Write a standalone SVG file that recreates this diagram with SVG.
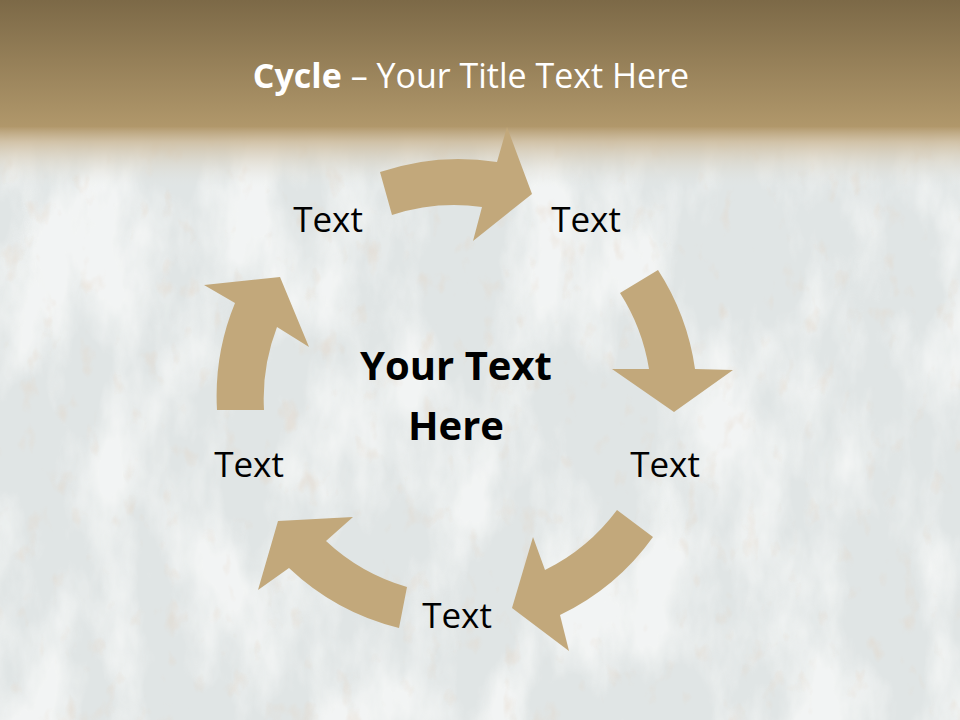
<svg xmlns="http://www.w3.org/2000/svg" width="960" height="720" viewBox="0 0 960 720">
<defs>
<linearGradient id="band" x1="0" y1="0" x2="0" y2="1">
<stop offset="0" stop-color="#7C6947"/>
<stop offset="1" stop-color="#B1986B"/>
</linearGradient>
<linearGradient id="fade" x1="0" y1="0" x2="0" y2="1">
<stop offset="0" stop-color="#B39A6E" stop-opacity="1"/>
<stop offset="0.25" stop-color="#CDBB9C" stop-opacity="0.85"/>
<stop offset="1" stop-color="#E2E4E0" stop-opacity="0"/>
</linearGradient>
<filter id="white" x="0" y="0" width="1" height="1">
<feTurbulence type="fractalNoise" baseFrequency="0.014 0.006" numOctaves="5" seed="11" result="n"/>
<feColorMatrix in="n" type="matrix" values="0 0 0 0 1  0 0 0 0 1  0 0 0 0 0.99  3.5 0 0 0 -1.45"/>
</filter>
<filter id="rust" x="0" y="0" width="1" height="1">
<feTurbulence type="fractalNoise" baseFrequency="0.05 0.03" numOctaves="3" seed="3" result="n"/>
<feColorMatrix in="n" type="matrix" values="0 0 0 0 0.78  0 0 0 0 0.66  0 0 0 0 0.55  0 4 0 0 -2.5"/>
</filter>
<style>
.arrow{fill:#C2A87B}
.lbl{font-family:"Open Sans","Liberation Sans",sans-serif;font-size:35px;fill:#000;text-anchor:middle}
.ctr{font-family:"Open Sans","Liberation Sans",sans-serif;font-size:40px;font-weight:bold;fill:#000;text-anchor:middle}
.title{font-family:"Open Sans","Liberation Sans",sans-serif;font-size:34px;fill:#fff;text-anchor:middle}
</style>
</defs>
<g id="background">
<rect x="0" y="0" width="960" height="720" fill="#E0E5E5"/>
<rect x="0" y="0" width="960" height="720" filter="url(#white)" opacity="0.6"/>
<rect x="0" y="0" width="960" height="720" filter="url(#rust)" opacity="0.35"/>
<rect x="0" y="0" width="960" height="128" fill="url(#band)"/>
<rect x="0" y="127" width="960" height="60" fill="url(#fade)"/>
</g>
<g id="title">
<text class="title" x="471" y="88"><tspan font-weight="bold">Cycle</tspan> – Your Title Text Here</text>
</g>
<g id="connectors">
<path id="arrow-top" class="arrow" d="M380,172 A245,245 0 0 1 497,162 L507,127 L532,194 L473,241 L482,207 A200,200 0 0 0 392,215 Z"/>
<path id="arrow-right" class="arrow" d="M658,270 A245,245 0 0 1 695,369 L733,370 L674,412 L612,369 L649,369 A200,200 0 0 0 620,293 Z"/>
<path id="arrow-bottom-right" class="arrow" d="M653,537 A245,245 0 0 1 560,615 L569,651 L512,608 L533,537 L545,570 A200,200 0 0 0 617,510 Z"/>
<path id="arrow-bottom-left" class="arrow" d="M399,628 A245,245 0 0 1 289,568 L258,590 L278,521 L353,517 L326,541 A200,200 0 0 0 407,587 Z"/>
<path id="arrow-left" class="arrow" d="M217,410 A245,245 0 0 1 235,303 L204,285 L280,277 L309,347 L277,327 A200,200 0 0 0 264,410 Z"/>
</g>
<g id="node-center"><text class="ctr" x="456" y="380">Your Text</text><text class="ctr" x="456" y="440">Here</text></g>
<g id="node-1"><text class="lbl" x="328" y="232">Text</text></g>
<g id="node-2"><text class="lbl" x="586" y="232">Text</text></g>
<g id="node-3"><text class="lbl" x="665" y="477">Text</text></g>
<g id="node-4"><text class="lbl" x="457" y="628">Text</text></g>
<g id="node-5"><text class="lbl" x="249" y="477">Text</text></g>
</svg>
